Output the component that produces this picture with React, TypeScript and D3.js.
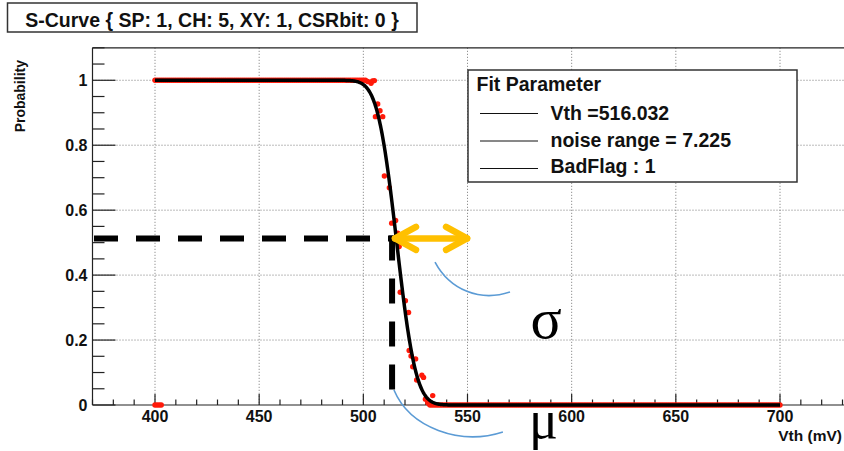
import React from 'react';
import * as d3 from 'd3';

const WIDTH = 844;
const HEIGHT = 451;

// Chart text
const titleText = 'S-Curve { SP: 1, CH: 5, XY: 1, CSRbit: 0 }';
const yAxisTitle = 'Probability';
const xAxisTitle = 'Vth (mV)';
const legendHeader = 'Fit Parameter';

// Fit results
const fitVth = 516.032;
const fitNoise = 7.225;
const badFlag = 1;
const legendRows = [
  `Vth =${fitVth.toFixed(3)}`,
  `noise range = ${fitNoise.toFixed(3)}`,
  `BadFlag : ${badFlag}`,
];

// Axis ranges and ticks
const xDomain: [number, number] = [370, 730];
const yDomain: [number, number] = [0, 1.1];
const xMajorTicks = [400, 450, 500, 550, 600, 650, 700];
const yMajorTicks = [0, 0.2, 0.4, 0.6, 0.8, 1];
const yTickLabels = ['0', '0.2', '0.4', '0.6', '0.8', '1'];
const xMinorStep = 10;
const yMinorStep = 0.05;

// Scan points: full-efficiency plateau (every step reads probability 1)
const highPlateauVth = d3.range(400, 502, 1);
const highPlateauProb = 1;
// First steps of the scan, no hits recorded
const startZeroVth = [400, 401, 402, 403];
// Below-threshold plateau (every step reads probability 0)
const lowPlateauVth = d3.range(532, 701, 1);
const lowPlateauProb = 0;
// Transition region
const transitionVth = [
  502.1, 503.7, 504.4, 505.3, 506.9, 508.0, 505.8, 509.3, 510.1, 512.5,
  513.6, 515.5, 516.5, 517.2, 517.7, 520.2, 521.7, 522.0, 522.9, 525.1,
  523.7, 528.1, 528.9, 525.6, 533.3, 529.8, 530.9, 531.5,
];
const transitionProb = [
  0.996, 0.991, 0.998, 0.999, 0.927, 0.906, 0.888, 0.888, 0.705, 0.669,
  0.56, 0.568, 0.529, 0.488, 0.347, 0.321, 0.285, 0.168, 0.151, 0.142,
  0.118, 0.092, 0.085, 0.077, 0.029, 0.018, 0.008, 0.004,
];

// Hand annotations (data units)
const muMarker = { vth: 513.8, prob: 0.513, top: 0.522 };
const sigmaArrow = { from: 515.2, to: 549.8, prob: 0.513 };
const sigmaArc = [
  [534.4, 0.44],
  [541.6, 0.354],
  [556.0, 0.317],
  [570.4, 0.348],
];
const muArc = [
  [514.7, 0.046],
  [522.4, -0.071],
  [546.4, -0.126],
  [567.0, -0.083],
];
const sigmaLabel = { vth: 580.2, prob: 0.206, text: 'σ' };
const muLabel = { vth: 579.5, prob: -0.102, text: 'μ' };

// Complementary error function (Abramowitz & Stegun 7.1.26)
function erfc(z: number): number {
  const t = 1 / (1 + 0.3275911 * Math.abs(z));
  const poly =
    t * (0.254829592 + t * (-0.284496736 + t * (1.421413741 + t * (-1.453152027 + t * 1.061405429))));
  const e = poly * Math.exp(-z * z);
  return z >= 0 ? e : 2 - e;
}

const sCurve = (v: number) => 0.5 * erfc((v - fitVth) / (Math.SQRT2 * fitNoise));

const SANS = '"Liberation Sans", Arial, Helvetica, sans-serif';
const SERIF = '"Liberation Serif", "Times New Roman", serif';

export default function App() {
  const left = 92.5;
  const right = 842.5;
  const top = 47.8;
  const bottom = 405;

  const x = d3.scaleLinear().domain(xDomain).range([left, right]);
  const y = d3.scaleLinear().domain(yDomain).range([bottom, top]);

  const xMinor = d3.range(xDomain[0], xDomain[1] + 0.001, xMinorStep).filter(
    (v) => !xMajorTicks.includes(v)
  );
  const yMinor = d3
    .range(0, yDomain[1] + 0.0001, yMinorStep)
    .map((v) => Math.round(v * 100) / 100)
    .filter((v) => !yMajorTicks.some((m) => Math.abs(m - v) < 1e-6));

  const points: [number, number][] = [
    ...highPlateauVth.map((v) => [v, highPlateauProb] as [number, number]),
    ...startZeroVth.map((v) => [v, 0] as [number, number]),
    ...lowPlateauVth.map((v) => [v, lowPlateauProb] as [number, number]),
    ...transitionVth.map((v, i) => [v, transitionProb[i]] as [number, number]),
  ];

  const fitLine = d3
    .line<number>()
    .x((v) => x(v))
    .y((v) => y(sCurve(v)))
    .curve(d3.curveLinear)(d3.range(400, 700.01, 0.25));

  const arcPath = (pts: number[][]) => {
    const p = d3.path();
    p.moveTo(x(pts[0][0]), y(pts[0][1]));
    p.bezierCurveTo(
      x(pts[1][0]), y(pts[1][1]),
      x(pts[2][0]), y(pts[2][1]),
      x(pts[3][0]), y(pts[3][1])
    );
    return p.toString();
  };

  const ax0 = x(sigmaArrow.from);
  const ax1 = x(sigmaArrow.to);
  const ay = y(sigmaArrow.prob);
  const headDx = 21;
  const headDy = 11.5;

  const legendX = 468;
  const legendY = 70;
  const legendW = 329;
  const legendH = 112;

  return (
    <svg
      width={WIDTH}
      height={HEIGHT}
      viewBox={`0 0 ${WIDTH} ${HEIGHT}`}
      style={{ position: 'absolute', left: 0, top: 0, display: 'block', background: '#fff' }}
    >
      <rect x={0} y={0} width={WIDTH} height={HEIGHT} fill="#fff" />

      {/* grid */}
      <g stroke="#777" strokeWidth={1} strokeDasharray="1 2">
        {xMajorTicks.map((v) => (
          <line key={`gx${v}`} x1={x(v)} x2={x(v)} y1={top} y2={bottom} />
        ))}
        {yMajorTicks.filter((v) => v > 0).map((v) => (
          <line key={`gy${v}`} x1={left} x2={WIDTH} y1={y(v)} y2={y(v)} />
        ))}
      </g>

      {/* frame: top, left and bottom edges */}
      <g stroke="#222" strokeWidth={1.2} fill="none">
        <line x1={left} x2={WIDTH} y1={top} y2={top} />
        <line x1={left} x2={left} y1={top} y2={bottom} />
        <line x1={left} x2={WIDTH} y1={bottom} y2={bottom} />
      </g>

      {/* axis ticks */}
      <g stroke="#222" strokeWidth={1.2}>
        {yMajorTicks.map((v) => (
          <line key={`yt${v}`} x1={left} x2={left + 23} y1={y(v)} y2={y(v)} />
        ))}
        {yMinor.map((v) => (
          <line key={`ym${v}`} x1={left} x2={left + 12} y1={y(v)} y2={y(v)} />
        ))}
        {xMajorTicks.map((v) => (
          <line key={`xt${v}`} x1={x(v)} x2={x(v)} y1={bottom} y2={bottom - 11} />
        ))}
        {xMinor.map((v) => (
          <line key={`xm${v}`} x1={x(v)} x2={x(v)} y1={bottom} y2={bottom - 5.5} />
        ))}
      </g>

      {/* tick labels */}
      <g fontFamily={SANS} fontWeight="bold" fontSize={16} fill="#111">
        {yMajorTicks.map((v, i) => (
          <text key={`yl${v}`} x={87.5} y={y(v)} dy="0.36em" textAnchor="end">
            {yTickLabels[i]}
          </text>
        ))}
        {xMajorTicks.map((v) => (
          <text key={`xl${v}`} x={x(v)} y={422} textAnchor="middle">
            {v}
          </text>
        ))}
      </g>

      {/* axis titles */}
      <text
        transform="translate(25,60) rotate(-90)"
        textAnchor="end"
        fontFamily={SANS}
        fontWeight="bold"
        fontSize={14}
        fill="#111"
      >
        {yAxisTitle}
      </text>
      <text
        x={842}
        y={441}
        textAnchor="end"
        fontFamily={SANS}
        fontWeight="bold"
        fontSize={15.5}
        fill="#111"
      >
        {xAxisTitle}
      </text>

      {/* scan points */}
      <g fill="#ff1a0a">
        {points.map(([v, p], i) => (
          <circle key={`p${i}`} cx={x(v)} cy={y(p)} r={2.7} />
        ))}
      </g>

      {/* fitted S-curve */}
      <path d={fitLine ?? ''} fill="none" stroke="#000" strokeWidth={3.5} strokeLinejoin="round" />

      {/* threshold markers */}
      <line
        x1={left + 1.5}
        x2={ax0}
        y1={y(muMarker.prob)}
        y2={y(muMarker.prob)}
        stroke="#000"
        strokeWidth={6}
        strokeDasharray="24 18"
      />
      <line
        x1={x(muMarker.vth)}
        x2={x(muMarker.vth)}
        y1={y(muMarker.top)}
        y2={bottom}
        stroke="#000"
        strokeWidth={6}
        strokeDasharray="25 18"
      />

      {/* noise width arrow */}
      <g stroke="#ffc000" strokeWidth={6.5} strokeLinecap="round" strokeLinejoin="round" fill="none">
        <line x1={ax0} x2={ax1} y1={ay} y2={ay} />
        <polyline points={`${ax0 + headDx},${ay - headDy} ${ax0},${ay} ${ax0 + headDx},${ay + headDy}`} />
        <polyline points={`${ax1 - headDx},${ay - headDy} ${ax1},${ay} ${ax1 - headDx},${ay + headDy}`} />
      </g>

      {/* callout arcs */}
      <g stroke="#5b9bd5" strokeWidth={1.6} fill="none">
        <path d={arcPath(sigmaArc)} />
        <path d={arcPath(muArc)} />
      </g>
      <text x={x(sigmaLabel.vth)} y={y(sigmaLabel.prob)} fontFamily={SERIF} fontSize={58} fill="#000">
        {sigmaLabel.text}
      </text>
      <text x={x(muLabel.vth)} y={y(muLabel.prob)} fontFamily={SERIF} fontSize={54} fill="#000">
        {muLabel.text}
      </text>

      {/* fit parameter legend */}
      <rect x={legendX} y={legendY} width={legendW} height={legendH} fill="#fff" stroke="#333" strokeWidth={1.5} />
      <g fontFamily={SANS} fontWeight="bold" fontSize={19.5} fill="#111">
        <text x={476.5} y={91}>{legendHeader}</text>
        {legendRows.map((r, i) => (
          <g key={`lr${i}`}>
            <line x1={480} x2={538} y1={113.5 + i * 27.5} y2={113.5 + i * 27.5} stroke="#111" strokeWidth={1} />
            <text x={550.5} y={120 + i * 26.5}>{r}</text>
          </g>
        ))}
      </g>

      {/* title */}
      <rect x={7.5} y={3} width={409.5} height={29} fill="#fff" stroke="#333" strokeWidth={1.5} />
      <text
        x={212}
        y={26.5}
        textAnchor="middle"
        fontFamily={SANS}
        fontWeight="bold"
        fontSize={19.5}
        fill="#111"
      >
        {titleText}
      </text>
    </svg>
  );
}
